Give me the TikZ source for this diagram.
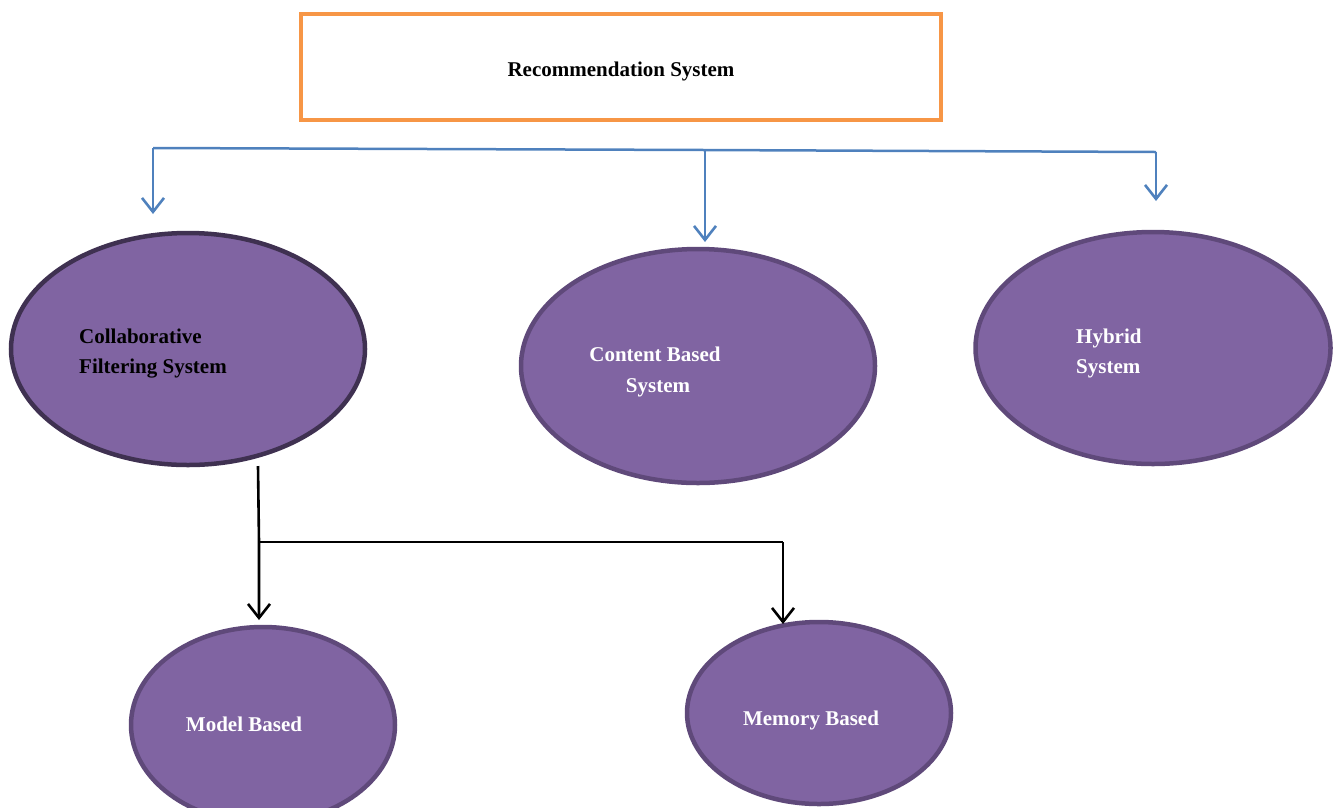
\documentclass[tikz,border=0pt]{standalone}
\usepackage{fontspec}
\setmainfont{Liberation Serif}
\usetikzlibrary{shapes.geometric,arrows.meta}
\definecolor{ofill}{HTML}{8064A2}
\definecolor{oborder}{HTML}{5F497A}
\definecolor{odark}{HTML}{3F3151}
\definecolor{oorange}{HTML}{F79646}
\definecolor{oblue}{HTML}{4F81BD}
\tikzset{
  x=1pt,y=-1pt,
  oval/.style={ellipse,draw=oborder,fill=ofill,line width=4.5pt,inner sep=0pt},
  lbl/.style={inner sep=0pt,font=\fontsize{21}{30}\selectfont\bfseries},
  wlbl/.style={lbl,text=white},
  bconn/.style={draw=oblue,line width=2.5pt},
  kconn/.style={draw=black,line width=2.6pt},
  barb/.style={-{Straight Barb[length=14pt,width=22pt,line width=2.6pt]}}
}
\begin{document}
\begin{tikzpicture}
\useasboundingbox (0,0) rectangle (1335,807);
% top box
\node[draw=oorange,line width=4.5pt,minimum width=640pt,minimum height=106pt,inner sep=0pt] (rs) at (621,67) {};
\node[lbl,anchor=base] (rst) at (621,76) {Recommendation System};
% ellipses
\node[oval,draw=odark,minimum width=354pt,minimum height=232pt] (cf) at (188,349) {};
\node[oval,minimum width=354pt,minimum height=234pt] (cb) at (698,366) {};
\node[oval,minimum width=355pt,minimum height=232pt] (hy) at (1153,348) {};
\node[oval,minimum width=264pt,minimum height=196pt] (mo) at (263,725) {};
\node[oval,minimum width=264pt,minimum height=182pt] (me) at (819,713) {};
% labels
\node[lbl,anchor=base west] (cf1) at (79,343) {Collaborative};
\node[lbl,anchor=base west] (cf2) at (79,373) {Filtering System};
\node[wlbl,anchor=base] (cb1) at (655,361) {Content Based};
\node[wlbl,anchor=base] (cb2) at (658,392) {System};
\node[wlbl,anchor=base west] (hy1) at (1076,343) {Hybrid};
\node[wlbl,anchor=base west] (hy2) at (1076,373) {System};
\node[wlbl,anchor=base] (mot) at (244,731) {Model Based};
\node[wlbl,anchor=base] (met) at (811,725) {Memory Based};
% blue connectors
\coordinate (bl) at (153,148);
\coordinate (bm) at (705,150);
\coordinate (br) at (1156,152);
\coordinate (al) at (153,214);
\coordinate (am) at (705,242);
\coordinate (ar) at (1156,201);
\draw[bconn] (bl) -- (bm) -- (br);
\draw[bconn,barb] (bl) -- (al);
\draw[bconn,barb] (bm) -- (am);
\draw[bconn,barb] (br) -- (ar);
% black connectors
\coordinate (ks) at (258,466);
\coordinate (kj) at (259,542);
\coordinate (kr) at (783,542);
\coordinate (ka) at (259,620);
\coordinate (kb) at (783,624);
\draw[kconn,barb] (ks) -- (kj) -- (ka);
\draw[kconn] (kj) -- (kr);
\draw[kconn,barb] (kr) -- (kb);
\end{tikzpicture}
\end{document}
